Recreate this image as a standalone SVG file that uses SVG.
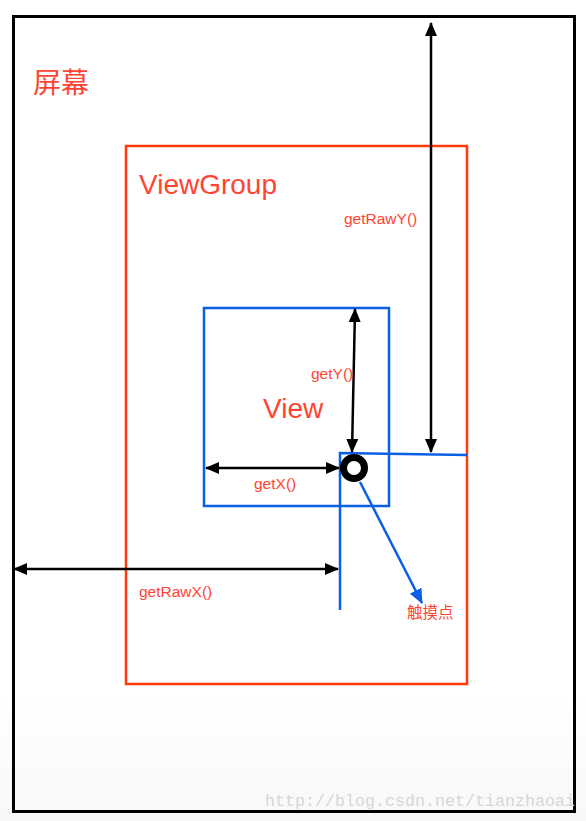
<svg xmlns="http://www.w3.org/2000/svg" width="586" height="821" viewBox="0 0 586 821">
<style>
.lbl{font-family:"Liberation Sans",Arial,"Noto Sans CJK SC",sans-serif;fill:#FF4433}
.big{font-size:28px}
.small{font-size:15.5px}
.dim{stroke:#000;stroke-width:2.5;fill:none}
.blue{stroke:#0A5FE6;stroke-width:2.5;fill:none}
</style>
<defs>
<marker id="ah" viewBox="0 0 14 12" refX="13" refY="6" markerWidth="14" markerHeight="12" markerUnits="userSpaceOnUse" orient="auto-start-reverse">
<path d="M0,0 L14,6 L0,12 Z" fill="#000"/>
</marker>
<marker id="ahb" viewBox="0 0 15 13" refX="14" refY="6.5" markerWidth="15" markerHeight="13" markerUnits="userSpaceOnUse" orient="auto">
<path d="M0,0 L15,6.5 L0,13 Z" fill="#0A5FE6"/>
</marker>
<linearGradient id="bg" x1="0" y1="0" x2="0" y2="1">
<stop offset="0.85" stop-color="#ffffff"/>
<stop offset="1" stop-color="#f8f8f8"/>
</linearGradient>
</defs>
<rect x="0" y="0" width="586" height="821" fill="url(#bg)"/>
<g id="screen">
<rect x="13.5" y="16.5" width="561" height="795" fill="none" stroke="#000" stroke-width="3"/>
<text class="lbl big" x="33" y="93">屏幕</text>
</g>
<g id="viewgroup">
<rect x="126" y="146" width="341" height="538" fill="none" stroke="#FF3B0A" stroke-width="2.5"/>
<text class="lbl big" x="139" y="194">ViewGroup</text>
</g>
<g id="view">
<rect x="204" y="308" width="185" height="198" fill="none" stroke="#0A5FE6" stroke-width="2.5"/>
<text class="lbl big" x="263" y="418">View</text>
</g>
<g id="touch-lines">
<path class="blue" d="M340,610 L340,453 L467,455"/>
</g>
<g id="touch-point">
<circle cx="354" cy="468" r="10.5" fill="none" stroke="#000" stroke-width="7"/>
<text class="lbl" font-size="15.5" x="407" y="618">触摸点</text>
</g>
<g id="connectors">
<line class="dim" x1="431" y1="23" x2="431" y2="452" marker-start="url(#ah)" marker-end="url(#ah)"/>
<line class="dim" x1="355" y1="309" x2="352" y2="452" marker-start="url(#ah)" marker-end="url(#ah)"/>
<line class="dim" x1="206" y1="468" x2="339" y2="468" marker-start="url(#ah)" marker-end="url(#ah)"/>
<line class="dim" x1="14" y1="569" x2="338" y2="569" marker-start="url(#ah)" marker-end="url(#ah)"/>
<line class="blue" x1="360" y1="482" x2="422" y2="603" marker-end="url(#ahb)"/>
</g>
<g id="labels">
<text class="lbl small" x="344" y="224">getRawY()</text>
<text class="lbl small" x="311" y="379">getY()</text>
<text class="lbl small" x="254" y="489">getX()</text>
<text class="lbl small" x="139" y="597">getRawX()</text>
</g>
<text x="265" y="806" font-family="'Liberation Mono','DejaVu Sans Mono',monospace" font-size="16" fill="#d6d6d6" textLength="310" lengthAdjust="spacingAndGlyphs">http://blog.csdn.net/tianzhaoai</text>
</svg>
